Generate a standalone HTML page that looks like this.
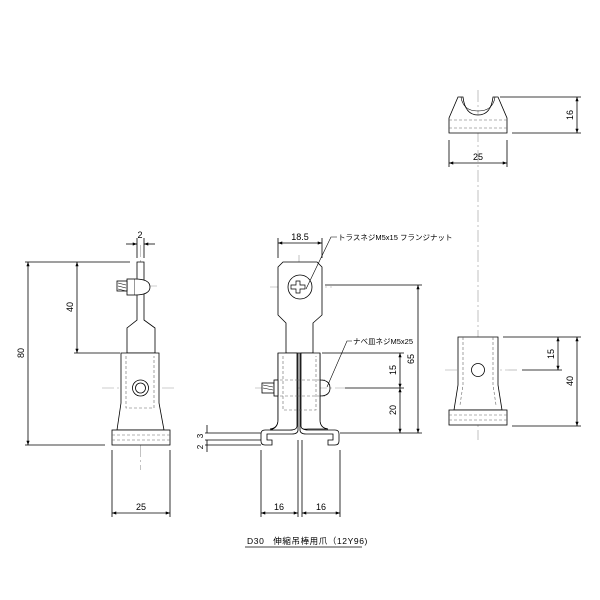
<!DOCTYPE html>
<html><head><meta charset="utf-8"><style>
html,body{margin:0;padding:0;background:#fff}
svg{display:block}
text{font-family:"Liberation Sans","Noto Sans CJK JP",sans-serif;fill:#000}
</style></head><body>
<svg width="600" height="600" viewBox="0 0 600 600" xmlns="http://www.w3.org/2000/svg">
<defs>
<marker id="a" viewBox="0 0 8 6" refX="8" refY="3" markerWidth="6" markerHeight="4" orient="auto-start-reverse"><path d="M0,0L8,3L0,6z" fill="#000"/></marker>
</defs>
<g stroke="#000" stroke-width="0.8" fill="none">
<!-- LEFT VIEW -->
<g stroke="#999" stroke-dasharray="12,3,2,3" stroke-width="0.6">
<line x1="140.5" y1="245" x2="140.5" y2="470"/>
<line x1="102" y1="388" x2="175" y2="388"/>
<line x1="125" y1="286" x2="158" y2="286"/>
</g>
<path d="M137,262 H144 V320 L155,328 V353 H127 V328 L137,320 Z" fill="#fff"/>
<rect x="127" y="279" width="8" height="16" fill="#fff"/>
<path d="M135,279 Q150,279 150,287 Q150,295 135,295" fill="#fff"/>
<rect x="117" y="281" width="10" height="10" fill="#fff"/>
<path d="M118,283 l8,2 M118,286 l8,2 M118,289 l8,2" stroke-width="0.6"/>
<path d="M121,353 H159 V403 L164,430 H117 L121,403 Z" fill="#fff"/>
<path d="M126,356 V408 H154 V356" stroke-dasharray="3,2" stroke-width="0.6" stroke="#666"/>
<circle cx="140.5" cy="388" r="8"/><circle cx="140.5" cy="388" r="5"/>
<rect x="112" y="430" width="58" height="15" fill="#fff"/>
<path d="M112,435 H170 M112,440 H170" stroke-dasharray="3,2" stroke-width="0.6" stroke="#666"/>
<!-- dims left -->
<path d="M25,262 H130 M74,353 H120 M25,445 H105"/>
<line x1="28" y1="262" x2="28" y2="445" marker-start="url(#a)" marker-end="url(#a)"/>
<line x1="77" y1="262" x2="77" y2="353" marker-start="url(#a)" marker-end="url(#a)"/>
<path d="M137,238 V258 M144,238 V258"/>
<line x1="126" y1="244" x2="137" y2="244" marker-end="url(#a)"/>
<line x1="155" y1="244" x2="144" y2="244" marker-end="url(#a)"/>
<path d="M112,450 V517 M170,450 V517"/>
<line x1="112" y1="513" x2="170" y2="513" marker-start="url(#a)" marker-end="url(#a)"/>

<!-- MIDDLE VIEW -->
<g stroke="#999" stroke-dasharray="12,3,2,3" stroke-width="0.6">
<line x1="299" y1="255" x2="299" y2="345"/>
<line x1="270" y1="287" x2="332" y2="287"/>
<line x1="255" y1="388" x2="345" y2="388"/>
</g>
<path d="M283,262 H317 L322,267 V315 L313,323 V353 H286 V323 L278,315 V267 Z" fill="#fff"/>
<circle cx="300" cy="287" r="12"/>
<path d="M296,281 h4 v4 h5 v4 h-5 v4 h-4 v-4 h-5 v-4 h5 z" stroke-width="0.7"/>
<path d="M297,353 V425 Q297,430 290,430 H265 Q261,430 261,434 V441 Q261,445 265,445 H272 V440 H267 V434 H292 Q298,434 298,430 V353" fill="#fff"/>
<path d="M278,353 V420 Q278,428 270,429" />
<path d="M301,353 V425 Q301,430 308,430 H335 Q339,430 339,434 V441 Q339,445 335,445 H328 V440 H333 V434 H306 Q300,434 300,430 V353" fill="#fff"/>
<path d="M320,353 V420 Q320,428 328,429"/>
<path d="M278,353 H297 V426 Q297,430 290,430 H270 Q278,428 278,420 Z" fill="#fff"/>
<path d="M301,353 H320 V420 Q320,428 328,429 H308 Q301,430 301,426 Z" fill="#fff"/>
<path d="M283,356 V410 H316 V356 M297,380 H325 M297,396 H325 M275,380 H297 M275,396 H297" stroke-dasharray="3,2" stroke-width="0.6" stroke="#666"/>
<rect x="262" y="383" width="12" height="10" fill="#fff"/>
<path d="M263,385 l10,2 M263,388 l10,2" stroke-width="0.6"/>
<rect x="274" y="380" width="4" height="16" fill="#fff"/>
<path d="M320,380 Q330,380 330,388 Q330,396 320,396"/>
<!-- middle dims -->
<path d="M278,258 V238 M322,258 V238"/>
<line x1="278" y1="243" x2="322" y2="243" marker-start="url(#a)" marker-end="url(#a)"/>
<path d="M325,285 H422 M322,353 H404 M345,388 H404 M340,433 H422"/>
<line x1="418" y1="285" x2="418" y2="433" marker-start="url(#a)" marker-end="url(#a)"/>
<line x1="400" y1="353" x2="400" y2="388" marker-start="url(#a)" marker-end="url(#a)"/>
<line x1="400" y1="388" x2="400" y2="433" marker-start="url(#a)" marker-end="url(#a)"/>
<path d="M337,237 L331,237 L306,289" stroke-width="0.6"/>
<path d="M352,341 L347,341 L327,387" stroke-width="0.6"/>
<path d="M205,433 H261 M205,440 H261 M205,445 H261"/>
<path d="M207,425 V433 M207,440 V452"/>
<path d="M261,450 V517 M298,440 V517 M302,440 V517 M340,450 V517"/>
<line x1="261" y1="513" x2="298" y2="513" marker-start="url(#a)" marker-end="url(#a)"/>
<line x1="302" y1="513" x2="340" y2="513" marker-start="url(#a)" marker-end="url(#a)"/>
<line x1="245" y1="547" x2="362" y2="547"/>

<!-- RIGHT VIEWS -->
<line x1="478" y1="90" x2="478" y2="440" stroke="#999" stroke-dasharray="12,3,2,3" stroke-width="0.6"/>
<line x1="445" y1="370" x2="520" y2="370" stroke="#999" stroke-dasharray="12,3,2,3" stroke-width="0.6"/>
<path d="M449,118 L458,97 H463 Q465,115 478,115 Q491,115 493,97 H498 L507,118 V133 H449 Z" fill="#fff"/>
<path d="M461,97 Q463,111 478,111 Q493,111 495,97" stroke-width="0.6"/>
<path d="M449,120 H507 M449,128 H507" stroke-dasharray="3,2" stroke-width="0.6" stroke="#666"/>
<path d="M500,97 H581 M512,133 H581 M449,140 V167 M507,140 V167"/>
<line x1="577" y1="97" x2="577" y2="133" marker-start="url(#a)" marker-end="url(#a)"/>
<line x1="449" y1="163" x2="507" y2="163" marker-start="url(#a)" marker-end="url(#a)"/>
<path d="M458,337 H498 V385 L502,410 H454 L458,385 Z" fill="#fff"/>
<path d="M463,337 V385 L460,405 M493,337 V385 L496,405" stroke-dasharray="3,2" stroke-width="0.6" stroke="#666"/>
<circle cx="478" cy="370" r="6.5" fill="#fff"/>
<rect x="449" y="410" width="58" height="15" fill="#fff"/>
<path d="M449,415 H507 M449,420 H507" stroke-dasharray="3,2" stroke-width="0.6" stroke="#666"/>
<path d="M503,337 H581 M522,370 H562 M512,426 H581"/>
<line x1="558" y1="337" x2="558" y2="370" marker-start="url(#a)" marker-end="url(#a)"/>
<line x1="577" y1="337" x2="577" y2="426" marker-start="url(#a)" marker-end="url(#a)"/>
</g>
<g font-size="9">
<text x="140" y="238" text-anchor="middle">2</text>
<text transform="translate(24,353) rotate(-90)" text-anchor="middle">80</text>
<text transform="translate(73,307) rotate(-90)" text-anchor="middle">40</text>
<text x="141" y="510" text-anchor="middle">25</text>
<text x="300" y="240" text-anchor="middle">18.5</text>
<text x="338" y="240" font-size="7.5">トラスネジM5x15 フランジナット</text>
<text x="353" y="344" font-size="7.5">ナベ皿ネジM5x25</text>
<text transform="translate(414,359) rotate(-90)" text-anchor="middle">65</text>
<text transform="translate(396,370) rotate(-90)" text-anchor="middle">15</text>
<text transform="translate(396,410) rotate(-90)" text-anchor="middle">20</text>
<text transform="translate(203,436) rotate(-90)" text-anchor="middle" font-size="8">3</text>
<text transform="translate(203,447) rotate(-90)" text-anchor="middle" font-size="8">2</text>
<text x="279" y="510" text-anchor="middle">16</text>
<text x="321" y="510" text-anchor="middle">16</text>
<text x="247" y="544" font-size="8.5" letter-spacing="0.6" xml:space="preserve">D30   伸縮吊棒用爪（12Y96)</text>
<text transform="translate(573,115) rotate(-90)" text-anchor="middle">16</text>
<text x="478" y="160" text-anchor="middle">25</text>
<text transform="translate(554,354) rotate(-90)" text-anchor="middle">15</text>
<text transform="translate(573,381) rotate(-90)" text-anchor="middle">40</text>
</g>
</svg>
</body></html>
